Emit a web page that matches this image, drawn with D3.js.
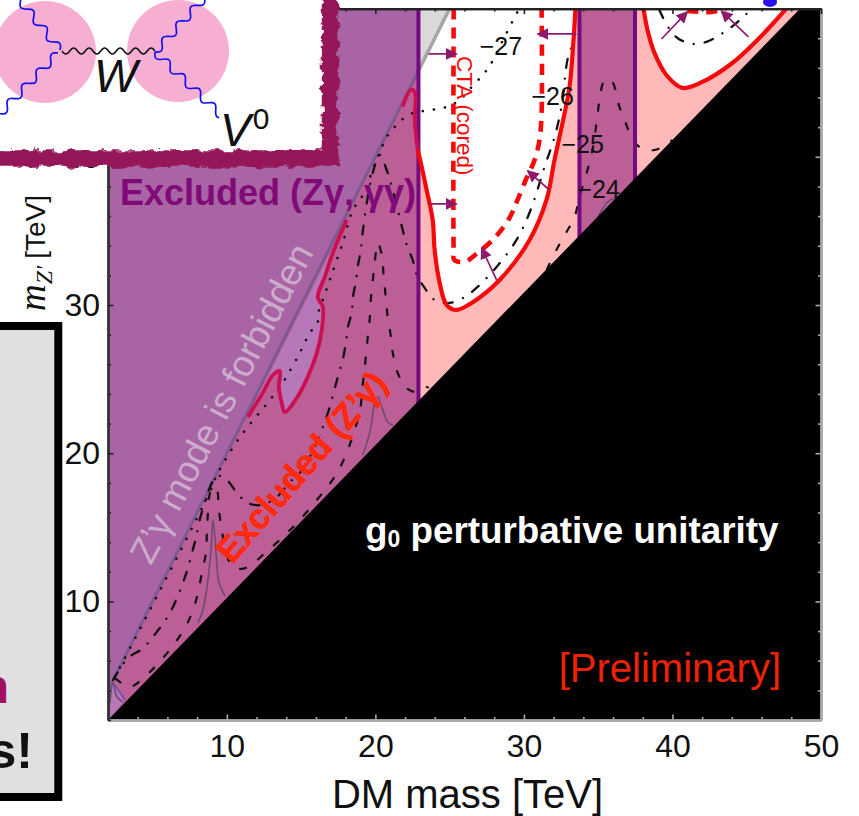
<!DOCTYPE html>
<html>
<head>
<meta charset="utf-8">
<script src="https://cdn.jsdelivr.net/npm/d3@7"></script>
<style>
  html, body { margin: 0; padding: 0; background: #fff; overflow: hidden; }
  text { font-family: "Liberation Sans", Arial, sans-serif; }
</style>
</head>
<body>
<script>
// Axis ticks
const xMajor = [10, 20, 30, 40, 50];
const yMajor = [10, 20, 30, 40, 50];
const minorTicks = [2, 4, 6, 8, 12, 14, 16, 18, 22, 24, 26, 28, 32, 34, 36, 38, 42, 44, 46, 48];

// Region edges [DM mass, mZ']
const bandLeft = 22.9;
const bandRight = [33.74, 37.48];
const unitarityEdge = [[2, 2], [48.6, 50], [50, 50], [50, 2]];
const forbiddenLine = [[2, 4], [25, 50]];
const grayWedge = [[22.9, 45.8], [22.9, 50], [25, 50]];

// Red limit contours
const redLobeLeft = [[33.47, 50], [33.34, 47.89], [33.07, 44.71], [32.6, 42.29], [32.06, 39.79], [31.52, 37.09], [30.38, 34.39], [28.36, 31.69], [26.48, 30.14], [25.47, 29.67], [24.8, 30], [24.33, 31.49], [23.99, 33.72], [23.86, 35.74], [23.45, 37.76], [23.12, 39.32], [22.85, 40.46]];
const redInBand = [[22.85, 40.46], [22.65, 42.49], [22.65, 44.38], [22.38, 44.51], [21.84, 43.37]];
const redLobeLow = [[11.41, 22.45], [12.42, 24.07], [13.1, 25.28], [13.57, 25.55], [13.5, 24.47], [13.7, 23.39], [13.9, 22.78], [14.71, 23.73], [15.45, 25.15], [16.06, 26.77], [16.39, 28.32], [16.46, 29.87], [16.12, 30.54], [16.59, 31.89], [17.13, 33.51], [18.07, 35.74]];
const redLobeRight = [[38.05, 50], [38.32, 48.56], [38.79, 47.01], [39.59, 45.52], [40.67, 44.65], [42.01, 45.05], [44.03, 46.33], [45.85, 48.02], [46.99, 49.24], [47.66, 50]];

// CTA (cored) projection
const ctaLeft = [[25.27, 50], [25.27, 33.6], [25.3, 33.05], [26.01, 32.91], [26.88, 33.51], [28.03, 34.53], [29.03, 35.88], [29.57, 37.09], [30.18, 38.57], [30.72, 39.79], [31.05, 41.14], [31.19, 42.96], [31.19, 50]];
const ctaRight = [[41.0, 49.84], [41.81, 49.78], [42.62, 49.78], [43.63, 49.98]];

// log10 cross-section contours
const contour27 = [[2.47, 4.9], [8.86, 17.39], [9.33, 18.53], [10.61, 20.69], [11.62, 22.04], [12.63, 23.26], [13.63, 24.54], [14.04, 25.21], [14.84, 26.63], [15.58, 28.11], [16.12, 28.86], [16.19, 29.6], [16.46, 30.34], [17, 31.89], [17.8, 34.19], [18.48, 36.41], [19.08, 37.29], [20.09, 39.79], [20.76, 41.34], [21.3, 42.02], [21.77, 42.49], [22.51, 42.96], [23.32, 43.1], [24.8, 43.37], [25.67, 43.84], [26.48, 44.71], [27.22, 45.52], [27.69, 46.13], [28.83, 48.36], [29.57, 49.78], [29.71, 50]];
const contour26 = [[2.34, 4.7], [3.35, 6.18], [4.29, 6.79], [4.96, 7.53], [5.63, 8.41], [6.17, 9.22], [6.64, 10.23], [7.04, 11.24], [7.38, 12.26], [7.65, 13.27], [7.92, 14.28], [8.12, 15.29], [8.46, 16.51], [8.79, 17.52], [9.33, 18.47], [10, 18.2], [10.68, 17.32], [11.41, 16.64], [12.36, 16.51], [13.37, 17.05], [14.24, 18.06], [14.91, 18.67], [15.92, 20.42], [16.59, 22.11], [16.93, 23.12], [17.27, 24.4], [17.53, 25.35], [17.8, 26.29], [18.01, 27.44], [18.14, 28.45], [18.41, 29.53], [18.48, 30.48], [18.68, 31.56], [18.81, 32.57], [19.01, 33.65], [19.15, 34.93], [19.42, 36.89], [19.82, 38.91], [20.29, 40.13], [20.76, 39.11], [21.17, 37.76], [21.84, 35.07], [22.11, 34.05], [22.51, 33.04], [22.78, 32.03], [23.32, 31.15], [23.99, 30.34], [25, 30.14], [26.01, 30.54], [26.88, 31.22], [28.16, 32.57], [29.5, 34.39], [30.45, 36.41], [31.39, 39.32], [32.06, 41.34], [32.53, 43.37], [32.93, 46.54], [33.27, 47.68], [33.54, 50]];
const contour26Right = [[39.12, 49.91], [39.66, 48.83], [40.33, 48.02], [41.34, 47.62], [42.28, 47.75], [43.29, 48.29], [44.16, 48.9], [44.9, 49.57], [45.38, 50]];
const contour25 = [[2.47, 4.83], [2.81, 4.56], [3.28, 4.23], [3.68, 4.29], [4.82, 5.24], [5.7, 6.18], [6.51, 7.2], [7.18, 8.21], [7.72, 9.42], [8.05, 10.57], [8.32, 11.92], [8.59, 13.27], [8.66, 14.69], [8.73, 15.97], [8.86, 17.32], [9.06, 17.72], [9.33, 17.52], [9.46, 16.17], [9.67, 14.82], [9.87, 13.61], [10.34, 12.39], [10.88, 12.19], [11.55, 12.39], [12.42, 13.13], [13.77, 14.35], [14.91, 15.5], [16.06, 16.85], [16.93, 17.93], [17.6, 19], [18.14, 20.22], [18.54, 21.37], [18.95, 22.78], [19.15, 24.61], [19.35, 26.43], [19.48, 27.78], [19.62, 29.06], [19.69, 30.34], [19.82, 31.56], [19.96, 32.91], [20.16, 34.19], [20.43, 33.38], [20.56, 31.89], [20.7, 30.54], [20.83, 29.19], [21.03, 27.98], [21.17, 26.77], [21.5, 25.42], [22.17, 24.34], [22.85, 24.13], [23.45, 24.47], [23.59, 24.4]];
const contour25Band = [[31.52, 32.37], [32.26, 33.85], [32.87, 34.93], [33.41, 35.94], [33.74, 37.29], [34.28, 39.11], [34.62, 40.46], [34.89, 42.29], [35.09, 43.84], [35.36, 45.05], [35.63, 45.25], [35.96, 45.05], [36.43, 43.37], [36.9, 42.15], [37.31, 41.14], [38.11, 40.46], [38.79, 40.46], [39.59, 40.8], [39.99, 41.14]];
const contour24Parts = [
  [[2.13, 3.15], [2.34, 4.5], [2.61, 3.55], [3.01, 3.21]],
  [[8.05, 8.55], [8.39, 9.42], [8.73, 11.45], [8.93, 13.47], [8.99, 14.35], [9.06, 15.5], [9.2, 14.35], [9.33, 12.46], [9.46, 11.31], [9.87, 10.37]],
  [[19.15, 19.88], [19.62, 21.37], [19.96, 23.39], [20.16, 23.8], [20.43, 23.12], [20.83, 22.11], [21.17, 21.91]],
  [[34.89, 35.74], [35.63, 36.95], [36.23, 37.29]]
];
const cornerSegment = [[2.47, 4.36], [3.14, 3.35]];
const cornerRegion = [[2, 2], [2, 4], [2.47, 4.36], [3.14, 3.35]];

// Arrows [from, to]
const arrows = [
  [[23.59, 46.94], [25.47, 46.94]],
  [[23.59, 36.82], [25.47, 36.82]],
  [[33.54, 48.29], [30.92, 48.29]],
  [[31.72, 37.76], [30.25, 39.05]],
  [[28.16, 31.69], [27.15, 33.85]],
  [[39.26, 47.95], [41.0, 49.78]],
  [[45.11, 48.09], [43.29, 49.84]]
];

const contourLabels = ["\u221227", "\u221226", "\u221225", "\u221224"];
const contourLabelPos = [[27.02, 46.87], [30.51, 43.5], [32.53, 40.26], [33.6, 37.22]];

const width = 859;
const height = 816;

const x = d3.scaleLinear().domain([2, 50]).range([108, 821]);
const y = d3.scaleLinear().domain([2, 50]).range([720, 8.6]);

const svg = d3.select("body").append("svg")
  .attr("width", width)
  .attr("height", height)
  .style("display", "block");

const defs = svg.append("defs");

defs.append("clipPath").attr("id", "plot-clip")
  .append("rect")
  .attr("x", x(2)).attr("y", y(50))
  .attr("width", x(50) - x(2)).attr("height", y(2) - y(50));

const rough = defs.append("filter").attr("id", "rough")
  .attr("filterUnits", "userSpaceOnUse")
  .attr("x", -20).attr("y", -20).attr("width", 400).attr("height", 220);
rough.append("feTurbulence").attr("type", "fractalNoise")
  .attr("baseFrequency", "0.09 0.14").attr("numOctaves", 3).attr("seed", 4);
rough.append("feDisplacementMap").attr("in", "SourceGraphic")
  .attr("scale", 9).attr("xChannelSelector", "R").attr("yChannelSelector", "G");

defs.append("marker").attr("id", "arrow-head")
  .attr("viewBox", "0 0 10 10").attr("refX", 9).attr("refY", 5)
  .attr("markerWidth", 12).attr("markerHeight", 12)
  .attr("markerUnits", "userSpaceOnUse").attr("orient", "auto")
  .append("path").attr("d", "M0,0L10,5L0,10Z").attr("fill", "#8e1a6e");

const straight = d3.line().x((d) => x(d[0])).y((d) => y(d[1]));
const smooth = d3.line().x((d) => x(d[0])).y((d) => y(d[1]))
  .curve(d3.curveCatmullRom.alpha(0.5));

const plot = svg.append("g").attr("clip-path", "url(#plot-clip)");

// Pink region right of the excluded band, with allowed white lobes
plot.append("path")
  .attr("d", straight([[bandLeft, 2], [bandLeft, 50], [50, 50], [50, 2]]) + "Z")
  .attr("fill", "#ffb9b9");
plot.append("path")
  .attr("d", smooth(redLobeLeft) + `L${x(bandLeft)},${y(50)}Z`)
  .attr("fill", "#fff");
plot.append("path")
  .attr("d", smooth(redLobeRight) + "Z")
  .attr("fill", "#fff");
plot.append("path").attr("d", straight(grayWedge) + "Z").attr("fill", "#d9d9d9");

// Excluded bands
plot.append("path")
  .attr("d", straight([[2, 2], [2, 50], [bandLeft, 50], [bandLeft, 2]]) + "Z")
  .attr("fill", "#bc5f96");
plot.append("path")
  .attr("d", straight([[bandRight[0], 2], [bandRight[0], 50], [bandRight[1], 50], [bandRight[1], 2]]) + "Z")
  .attr("fill", "#bc5f96");
plot.append("path").attr("d", smooth(redLobeLow) + "Z").attr("fill", "#b778ba");
plot.append("path").attr("d", straight(cornerRegion) + "Z").attr("fill", "#b778ba");
plot.append("path")
  .attr("d", straight([[2, 4], [2, 50], [bandLeft, 50], [bandLeft, 45.8]]) + "Z")
  .attr("fill", "#a864a4");

// Z' threshold line
plot.append("path").attr("d", straight(forbiddenLine))
  .attr("fill", "none").attr("stroke", "#7d5a93").attr("stroke-width", 3);
plot.append("path").attr("d", straight([[bandLeft, 45.8], [25, 50]]))
  .attr("fill", "none").attr("stroke", "#a8a8a8").attr("stroke-width", 3);

// Contours
const contourStyles = [
  { parts: [contour27], dash: "0.1 11", w: 2.6, cap: "round", color: "#111" },
  { parts: [contour26, contour26Right], dash: "9 11 0.1 11", w: 2.3, cap: "round", color: "#111" },
  { parts: [contour25, contour25Band], dash: "8 13", w: 2.2, cap: "butt", color: "#111" },
  { parts: contour24Parts, dash: null, w: 1.6, cap: "butt", color: "#6e4a72" }
];
contourStyles.forEach((s) => {
  plot.selectAll(null).data(s.parts).enter().append("path")
    .attr("d", smooth)
    .attr("fill", "none")
    .attr("stroke", s.color)
    .attr("stroke-width", s.w)
    .attr("stroke-linecap", s.cap)
    .attr("stroke-dasharray", s.dash);
});
plot.append("path").attr("d", straight(cornerSegment))
  .attr("fill", "none").attr("stroke", "#6a4fb4").attr("stroke-width", 1.6);

// Band edges
[bandLeft, bandRight[0], bandRight[1]].forEach((b) => {
  plot.append("path").attr("d", straight([[b, 2], [b, 50]]))
    .attr("fill", "none").attr("stroke", "#75097f").attr("stroke-width", 4);
});

// Limits
plot.selectAll(null).data([redLobeLeft, redLobeRight]).enter().append("path")
  .attr("d", smooth).attr("fill", "none")
  .attr("stroke", "#f40a0a").attr("stroke-width", 4.2).attr("stroke-linejoin", "round");
plot.selectAll(null).data([redLobeLow, redInBand]).enter().append("path")
  .attr("d", smooth).attr("fill", "none")
  .attr("stroke", "#cb0f50").attr("stroke-width", 3.8).attr("stroke-linejoin", "round");
plot.selectAll(null).data([ctaLeft, ctaRight]).enter().append("path")
  .attr("d", smooth).attr("fill", "none")
  .attr("stroke", "#f40a0a").attr("stroke-width", 4.6).attr("stroke-dasharray", "11 8");

// Arrows
plot.selectAll(null).data(arrows).enter().append("path")
  .attr("d", straight)
  .attr("fill", "none")
  .attr("stroke", "#8e1a6e")
  .attr("stroke-width", 1.7)
  .attr("marker-end", "url(#arrow-head)");

// Perturbative unitarity
plot.append("path").attr("d", straight(unitarityEdge) + "Z").attr("fill", "#000");

// Contour labels
svg.selectAll(".contour-label").data(contourLabels).enter().append("text")
  .attr("class", "contour-label")
  .attr("x", (d, i) => x(contourLabelPos[i][0]))
  .attr("y", (d, i) => y(contourLabelPos[i][1]))
  .attr("font-size", 25)
  .attr("fill", "#111")
  .text((d) => d);

// Annotations
svg.append("text").attr("x", 120).attr("y", 205)
  .attr("font-size", 36).attr("font-weight", "bold").attr("fill", "#820a78")
  .text("Excluded (Z\u03b3, \u03b3\u03b3)");
svg.append("text").attr("transform", "translate(151,566) rotate(-62.5)")
  .attr("font-size", 37).attr("fill", "#cbaccc")
  .text("Z\u2019\u03b3 mode is forbidden");
svg.append("text").attr("transform", "translate(232,565) rotate(-49)")
  .attr("font-size", 35).attr("font-weight", "bold").attr("fill", "#ff2a10")
  .attr("stroke", "#ff2a10").attr("stroke-width", 0.8)
  .text("Excluded (Z\u2019\u03b3)");
svg.append("text").attr("transform", "translate(457,56) rotate(90)")
  .attr("font-size", 22.5).attr("fill", "#f40a0a")
  .text("CTA (cored)");

const unitarityLabel = svg.append("text").attr("x", 365).attr("y", 543)
  .attr("font-size", 36.8).attr("font-weight", "bold").attr("fill", "#fff");
unitarityLabel.append("tspan").text("g");
unitarityLabel.append("tspan").attr("font-size", 23).attr("dy", 4).text("0");
unitarityLabel.append("tspan").attr("dy", -4).text(" perturbative unitarity");

svg.append("text").attr("x", 781).attr("y", 682)
  .attr("text-anchor", "end").attr("font-size", 40).attr("fill", "#ee2200")
  .text("[Preliminary]");

// Axes: long ticks with labels, short ticks without
const axes = svg.append("g");
const styleAxis = (g, color, spine) => {
  g.selectAll(".tick line").attr("stroke", color).attr("stroke-width", 1.6);
  g.selectAll("text").attr("font-size", 32).attr("fill", "#111")
    .attr("font-family", '"Liberation Sans", Arial, sans-serif');
  g.select(".domain").attr("stroke", spine).attr("stroke-width", 2.4);
};
axes.append("g").attr("transform", `translate(0,${y(2)})`)
  .call(d3.axisBottom(x).tickValues(minorTicks).tickSize(-3).tickFormat("").tickSizeOuter(0))
  .call(styleAxis, "#a9a9a9", "#a9a9a9");
axes.append("g").attr("transform", `translate(0,${y(2)})`)
  .call(d3.axisBottom(x).tickValues(xMajor).tickSize(-5.5).tickPadding(14).tickSizeOuter(0))
  .call(styleAxis, "#a9a9a9", "#a9a9a9");
axes.append("g").attr("transform", `translate(${x(50)},0)`)
  .call(d3.axisRight(y).tickValues(minorTicks).tickSize(-3).tickFormat("").tickSizeOuter(0))
  .call(styleAxis, "#a9a9a9", "#a9a9a9");
axes.append("g").attr("transform", `translate(${x(50)},0)`)
  .call(d3.axisRight(y).tickValues(yMajor).tickSize(-5.5).tickFormat("").tickSizeOuter(0))
  .call(styleAxis, "#a9a9a9", "#a9a9a9");
axes.append("g").attr("transform", `translate(0,${y(50)})`)
  .call(d3.axisTop(x).tickValues(minorTicks).tickSize(-3).tickFormat("").tickSizeOuter(0))
  .call(styleAxis, "#222", "#222");
axes.append("g").attr("transform", `translate(0,${y(50)})`)
  .call(d3.axisTop(x).tickValues(xMajor).tickSize(-5.5).tickFormat("").tickSizeOuter(0))
  .call(styleAxis, "#222", "#222");
axes.append("g").attr("transform", `translate(${x(2)},0)`)
  .call(d3.axisLeft(y).tickValues(minorTicks).tickSize(-3).tickFormat("").tickSizeOuter(0))
  .call(styleAxis, "#222", "#333");
axes.append("g").attr("transform", `translate(${x(2)},0)`)
  .call(d3.axisLeft(y).tickValues(yMajor).tickSize(-5.5).tickPadding(8).tickSizeOuter(0))
  .call(styleAxis, "#222", "#333");

svg.append("text").attr("x", 467.5).attr("y", 808)
  .attr("text-anchor", "middle").attr("font-size", 40).attr("fill", "#111")
  .text("DM mass [TeV]");

const yLabel = svg.append("text").attr("transform", "translate(45,311) rotate(-90)")
  .attr("fill", "#111");
yLabel.append("tspan").attr("font-family", '"Liberation Serif", serif')
  .attr("font-style", "italic").attr("font-size", 37).text("m");
yLabel.append("tspan").attr("font-family", '"Liberation Serif", serif')
  .attr("font-style", "italic").attr("font-size", 24).attr("dy", 7).text("Z\u2032");
yLabel.append("tspan").attr("font-size", 28).attr("dy", -7).attr("dx", 7).text("[TeV]");

// Diagram inset over the top-left corner
const inset = svg.append("g");
inset.append("rect").attr("x", 0).attr("y", 0).attr("width", 331).attr("height", 159).attr("fill", "#fff");
inset.append("path").attr("d", "M330,-20V158.5H-20")
  .attr("fill", "none").attr("stroke", "#96195a").attr("stroke-width", 16.5)
  .attr("filter", "url(#rough)");

inset.selectAll(null).data([[45, 52], [178, 51]]).enter().append("circle")
  .attr("cx", (d) => d[0]).attr("cy", (d) => d[1]).attr("r", 51)
  .attr("fill", "#f7aed3");

// Wiggly boson line between two points
const wiggle = (x0, y0, x1, y1, period, amp) => {
  const len = Math.hypot(x1 - x0, y1 - y0);
  const ux = (x1 - x0) / len;
  const uy = (y1 - y0) / len;
  const pts = d3.range(0, len, period / 8).map((s) => {
    const off = amp * Math.sin((2 * Math.PI * s) / period);
    return [x0 + ux * s - uy * off, y0 + uy * s + ux * off];
  });
  return d3.line().curve(d3.curveBasis)(pts);
};
const blueLines = [[60, 50, 15, -6], [58, 53, -6, 120], [155, 52, 206, -4], [155, 52, 222, 116]];
inset.selectAll(null).data(blueLines).enter().append("path")
  .attr("d", (d) => wiggle(d[0], d[1], d[2], d[3], 21, 4.4))
  .attr("fill", "none").attr("stroke", "#1212f0").attr("stroke-width", 1.7);
inset.append("path").attr("d", wiggle(62, 51, 156, 51, 15.5, 3.4))
  .attr("fill", "none").attr("stroke", "#111").attr("stroke-width", 1.5);

inset.append("text").attr("x", 94).attr("y", 92)
  .attr("font-family", '"Liberation Serif", serif').attr("font-style", "italic")
  .attr("font-size", 46).attr("fill", "#111").text("W");
const vLabel = inset.append("text").attr("x", 220).attr("y", 146)
  .attr("font-family", '"Liberation Serif", serif').attr("fill", "#111");
vLabel.append("tspan").attr("font-style", "italic").attr("font-size", 46).text("V");
vLabel.append("tspan").attr("font-size", 30).attr("dy", -17).attr("dx", 2).text("0");

// Stray blue blob at the top edge
svg.append("ellipse").attr("cx", 770).attr("cy", 2).attr("rx", 7).attr("ry", 5).attr("fill", "#2a12ee");

// Gray panel cut off at the left edge
svg.append("rect").attr("x", -20).attr("y", 326).attr("width", 78.3).attr("height", 471)
  .attr("fill", "#e0e0e0").attr("stroke", "#000").attr("stroke-width", 8);
svg.append("text").attr("x", 9).attr("y", 703).attr("text-anchor", "end")
  .attr("font-size", 48).attr("font-weight", "bold").attr("fill", "#a0105f").text("n");
svg.append("text").attr("x", 33).attr("y", 768).attr("text-anchor", "end")
  .attr("font-size", 50).attr("font-weight", "bold").attr("fill", "#111").text("s!");
</script>
</body>
</html>
